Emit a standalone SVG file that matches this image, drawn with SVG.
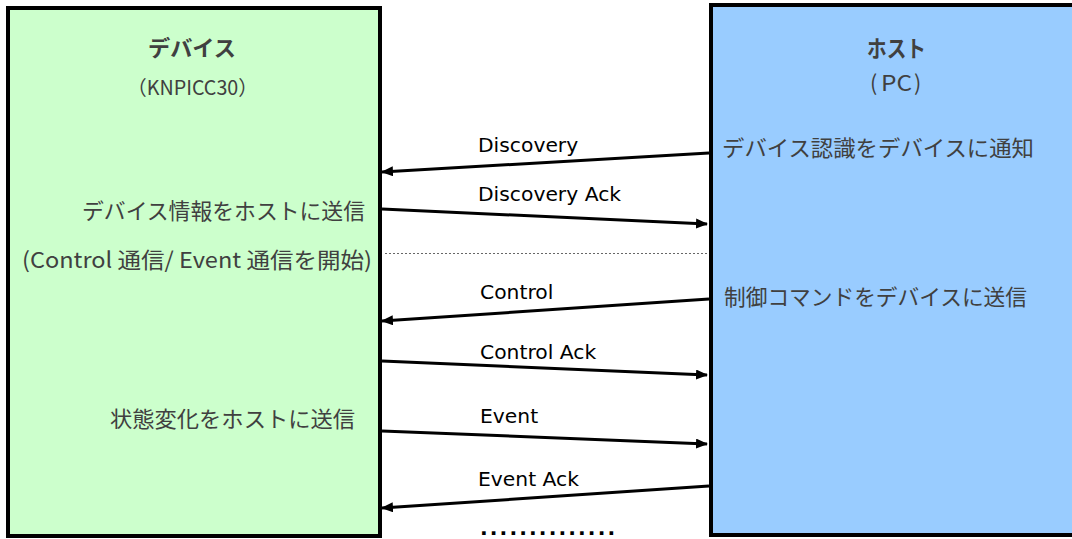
<svg xmlns="http://www.w3.org/2000/svg" width="1072" height="539" viewBox="0 0 1072 539">
<style>
.box{stroke:#000;stroke-width:4}
.jp{font-family:"Noto Sans CJK JP","DejaVu Sans",sans-serif;fill:#404040;font-size:22px}
.lbl{font-family:"DejaVu Sans","Noto Sans CJK JP",sans-serif;fill:#000;font-size:20.3px}
.msg{stroke:#000;stroke-width:3;fill:none;marker-end:url(#ah)}
</style>
<defs>
<marker id="ah" viewBox="0 0 12 10" refX="11" refY="5" markerWidth="12" markerHeight="10" markerUnits="userSpaceOnUse" orient="auto">
<path d="M0,0 L12,5 L0,10 Z" fill="#000"/>
</marker>
</defs>
<g id="device">
<rect class="box" x="8" y="8" width="372" height="528" fill="#ccffcc"/>
<text class="jp" x="148" y="56" font-weight="bold" textLength="88" lengthAdjust="spacingAndGlyphs">デバイス</text>
<text class="jp" x="127" y="95" style="font-size:20px" textLength="131" lengthAdjust="spacingAndGlyphs">（KNPICC30）</text>
<text class="jp" x="82" y="219" textLength="283" lengthAdjust="spacingAndGlyphs">デバイス情報をホストに送信</text>
<text class="jp" x="22" y="268" textLength="350" lengthAdjust="spacingAndGlyphs">(Control 通信/ Event 通信を開始)</text>
<text class="jp" x="110" y="427" textLength="245" lengthAdjust="spacingAndGlyphs">状態変化をホストに送信</text>
</g>
<g id="host">
<rect class="box" x="711" y="5" width="365" height="530" fill="#99ccff"/>
<text class="jp" x="867" y="57" font-weight="bold" style="font-size:23px" textLength="59" lengthAdjust="spacingAndGlyphs">ホスト</text>
<text class="jp" y="91" style="font-size:21.5px"><tspan x="870">(</tspan><tspan x="881" textLength="31" lengthAdjust="spacingAndGlyphs">PC</tspan><tspan x="914">)</tspan></text>
<text class="jp" x="722" y="156" textLength="312" lengthAdjust="spacingAndGlyphs">デバイス認識をデバイスに通知</text>
<text class="jp" x="724" y="305" textLength="303" lengthAdjust="spacingAndGlyphs">制御コマンドをデバイスに送信</text>
</g>
<g id="connectors">
<line class="msg" x1="709" y1="153" x2="382" y2="172"/>
<line class="msg" x1="382" y1="209" x2="707" y2="224"/>
<line x1="385" y1="253.5" x2="708" y2="253.5" stroke="#666" stroke-width="1" stroke-dasharray="2,2"/>
<line class="msg" x1="709" y1="299" x2="382" y2="321"/>
<line class="msg" x1="382" y1="361" x2="707" y2="375"/>
<line class="msg" x1="382" y1="431" x2="707" y2="444"/>
<line class="msg" x1="709" y1="486" x2="382" y2="508"/>
</g>
<g id="labels">
<text class="lbl" x="478" y="152">Discovery</text>
<text class="lbl" x="478" y="201">Discovery Ack</text>
<text class="lbl" x="480" y="299">Control</text>
<text class="lbl" x="480" y="359">Control Ack</text>
<text class="lbl" x="480" y="423">Event</text>
<text class="lbl" x="478" y="486">Event Ack</text>
<text class="lbl" x="480" y="535" font-weight="bold" letter-spacing="2.1">..............</text>
</g>
</svg>
